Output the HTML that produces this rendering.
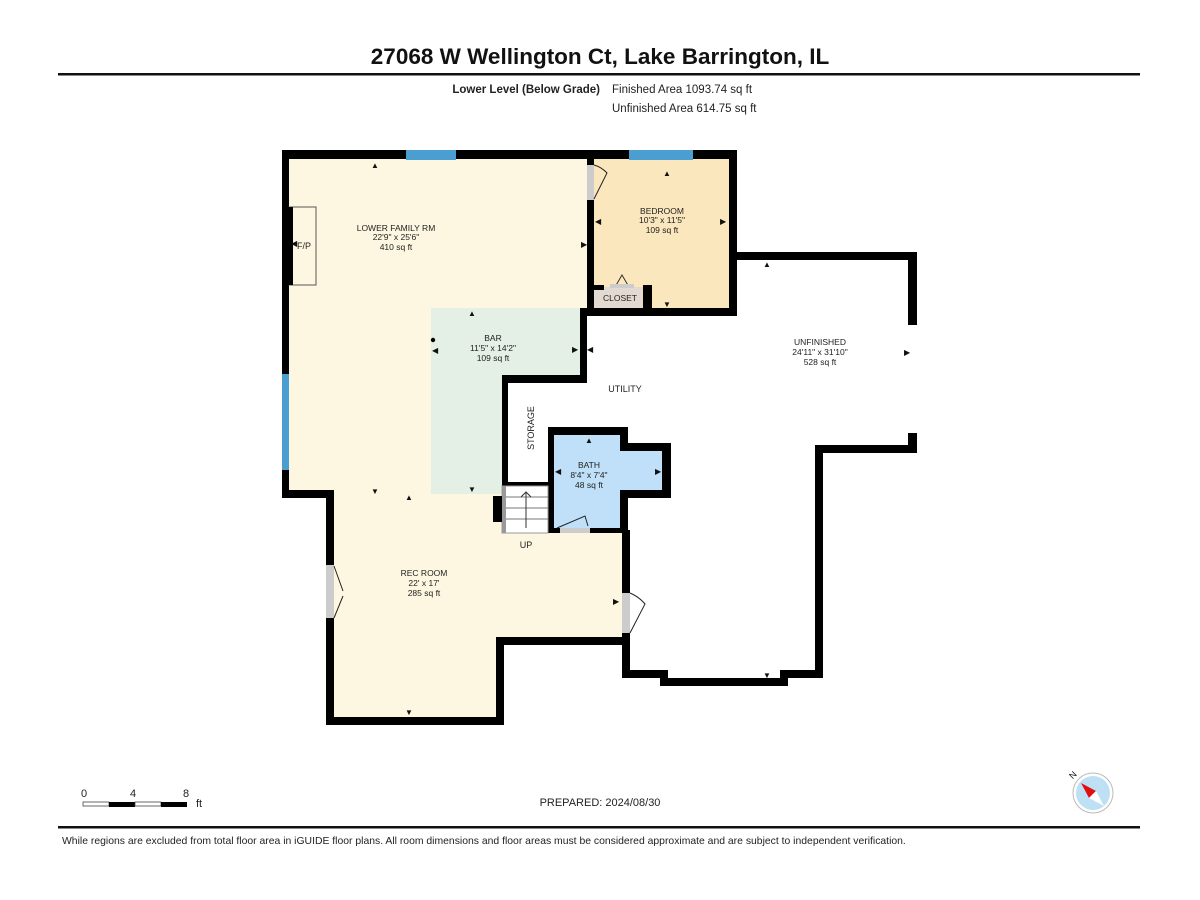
<!DOCTYPE html>
<html><head><meta charset="utf-8"><style>
html,body{margin:0;padding:0;background:#fff;}
svg{display:block;font-family:"Liberation Sans",Arial,sans-serif;}
</style></head><body>
<svg width="1200" height="900" viewBox="0 0 1200 900" xmlns="http://www.w3.org/2000/svg">
<rect width="1200" height="900" fill="#fff"/>
<text x="600" y="64" font-size="22.5" font-weight="bold" text-anchor="middle" fill="#111">27068 W Wellington Ct, Lake Barrington, IL</text>
<rect x="58" y="73" width="1082" height="2.5" fill="#111"/>
<text x="600" y="93" font-size="11.5" font-weight="bold" text-anchor="end" fill="#222">Lower Level (Below Grade)</text>
<text x="612" y="93" font-size="11.5" fill="#222">Finished Area 1093.74 sq ft</text>
<text x="612" y="112" font-size="11.5" fill="#222">Unfinished Area 614.75 sq ft</text>

<!-- fills -->
<polygon points="286,154 590,154 590,312 583,312 583,379 505,379 505,530 626,530 626,641 500,641 500,721 330,721 330,494 286,494" fill="#fdf7e1"/>
<polygon points="431,308 583,308 583,379 502,379 502,494 431,494" fill="#e4f0e6"/>
<rect x="594" y="158" width="136" height="150" fill="#fbe7bd"/>
<rect x="594" y="287" width="56" height="21" fill="#e2dad1"/>
<polygon points="552,431 624,431 624,447 666,447 666,494 624,494 624,530 552,530" fill="#bfe0f8"/>

<!-- windows -->
<rect x="406" y="150" width="50" height="10" fill="#4a9fd0"/>
<rect x="629" y="150" width="64" height="10" fill="#4a9fd0"/>
<rect x="282" y="374" width="7" height="96" fill="#4a9fd0"/>

<g fill="#000">
<rect x="282" y="150" width="124" height="9"/>
<rect x="456" y="150" width="173" height="9"/>
<rect x="693" y="150" width="44" height="9"/>
<rect x="282" y="150" width="7" height="224"/>
<rect x="282" y="470" width="7" height="28"/>
<rect x="282" y="490" width="52" height="8"/>
<rect x="326" y="490" width="8" height="75"/>
<rect x="326" y="618" width="8" height="107"/>
<rect x="326" y="717" width="177" height="8"/>
<rect x="496" y="637" width="8" height="88"/>
<rect x="496" y="637" width="134" height="8"/>
<rect x="622" y="530" width="8" height="63"/>
<rect x="622" y="633" width="8" height="45"/>
<rect x="587" y="150" width="7" height="15"/>
<rect x="587" y="200" width="7" height="116"/>
<rect x="729" y="150" width="8" height="166"/>
<rect x="587" y="308" width="150" height="8"/>
<rect x="594" y="285" width="10" height="5"/>
<rect x="643" y="285" width="9" height="23"/>
<rect x="580" y="308" width="7" height="75"/>
<rect x="502" y="375" width="85" height="8"/>
<rect x="502" y="375" width="6" height="112"/>
<rect x="502" y="482" width="46" height="4"/>
<rect x="548" y="427" width="80" height="8"/>
<rect x="548" y="427" width="6" height="106"/>
<rect x="620" y="427" width="8" height="23"/>
<rect x="620" y="443" width="51" height="8"/>
<rect x="662" y="443" width="9" height="55"/>
<rect x="620" y="490" width="51" height="8"/>
<rect x="620" y="490" width="8" height="43"/>
<rect x="548" y="528" width="12" height="5"/>
<rect x="590" y="528" width="38" height="5"/>
<rect x="730" y="252" width="187" height="8"/>
<rect x="908" y="252" width="9" height="73"/>
<rect x="908" y="433" width="9" height="20"/>
<rect x="815" y="445" width="102" height="8"/>
<rect x="815" y="445" width="8" height="233"/>
<rect x="780" y="670" width="43" height="8"/>
<rect x="660" y="678" width="128" height="8"/>
<rect x="622" y="670" width="40" height="8"/>
<rect x="660" y="670" width="8" height="16"/>
<rect x="780" y="670" width="8" height="16"/>
</g>
<rect x="289" y="207" width="27" height="78" fill="#fdf7e1" stroke="#555" stroke-width="1"/>
<rect x="286" y="207" width="7" height="78" fill="#000"/>
<text x="297" y="249" font-size="9" fill="#222">F/P</text>
<rect x="587" y="165" width="7" height="35" fill="#ccc"/>
<path d="M594,199 L607,173 A28,28 0 0 0 594,165" fill="none" stroke="#222" stroke-width="1"/>
<rect x="326" y="565" width="8" height="53" fill="#ccc"/>
<path d="M334,618 L343,596 M334,566 L343,591" fill="none" stroke="#222" stroke-width="1"/>
<rect x="622" y="593" width="8" height="40" fill="#ccc"/>
<path d="M630,633 L645,604 A40,40 0 0 0 630,593" fill="none" stroke="#222" stroke-width="1"/>
<rect x="560" y="528" width="30" height="5" fill="#ccc"/>
<path d="M557,528 L585,516 L588,526" fill="none" stroke="#222" stroke-width="1"/>
<path d="M615,287 L622,275 L629,287" fill="none" stroke="#333" stroke-width="1"/>
<rect x="610" y="284" width="24" height="4" fill="#ccc"/>
<rect x="502" y="486" width="46" height="47" fill="#fff" stroke="#999" stroke-width="1"/>
<rect x="502" y="486" width="4" height="47" fill="#999"/>
<g stroke="#777" stroke-width="1">
<line x1="506" y1="497" x2="548" y2="497"/><line x1="506" y1="508" x2="548" y2="508"/><line x1="506" y1="519" x2="548" y2="519"/>
<path d="M526,528 L526,492 M521,497 L526,492 L531,497" fill="none" stroke="#333"/>
</g>
<rect x="493" y="496" width="9" height="26" fill="#000"/>

<g font-size="8.5" fill="#222" text-anchor="middle">
<text x="396" y="231">LOWER FAMILY RM</text><text x="396" y="240">22'9" x 25'6"</text><text x="396" y="250">410 sq ft</text>
<text x="662" y="214">BEDROOM</text><text x="662" y="223">10'3" x 11'5"</text><text x="662" y="233">109 sq ft</text>
<text x="620" y="301">CLOSET</text>
<text x="493" y="341">BAR</text><text x="493" y="351">11'5" x 14'2"</text><text x="493" y="361">109 sq ft</text>
<text x="625" y="392" font-size="9">UTILITY</text>
<text x="820" y="345">UNFINISHED</text><text x="820" y="355">24'11" x 31'10"</text><text x="820" y="365">528 sq ft</text>
<text x="589" y="468">BATH</text><text x="589" y="478">8'4" x 7'4"</text><text x="589" y="488">48 sq ft</text>
<text x="424" y="576">REC ROOM</text><text x="424" y="586">22' x 17'</text><text x="424" y="596">285 sq ft</text>
<text x="526" y="548" font-size="9">UP</text>
<text transform="translate(534,428) rotate(-90)" font-size="9">STORAGE</text>
</g>
<circle cx="433" cy="340" r="2.2" fill="#000"/>
<g fill="#111" font-size="8" text-anchor="middle">
<text x="375" y="168">▲</text><text x="375" y="494">▼</text><text x="409" y="500">▲</text>
<text x="472" y="316">▲</text><text x="472" y="492">▼</text>
<text x="667" y="176">▲</text><text x="667" y="307">▼</text>
<text x="767" y="267">▲</text><text x="767" y="678">▼</text>
<text x="589" y="443">▲</text>
<text x="409" y="715">▼</text>
</g>
<g fill="#111" font-size="8">
<text x="581" y="247">▶</text><text x="595" y="224">◀</text><text x="720" y="224">▶</text>
<text x="432" y="353">◀</text><text x="572" y="352">▶</text><text x="587" y="352">◀</text>
<text x="904" y="355">▶</text><text x="555" y="474">◀</text><text x="655" y="474">▶</text>
<text x="613" y="604">▶</text><text x="291" y="246">◀</text>
</g>

<g font-size="11" fill="#222">
<text x="81" y="797">0</text><text x="130" y="797">4</text><text x="183" y="797">8</text><text x="196" y="807">ft</text>
</g>
<rect x="83" y="802" width="26" height="4" fill="#fff" stroke="#444" stroke-width="0.8"/>
<rect x="109" y="802" width="26" height="5" fill="#000"/>
<rect x="135" y="802" width="26" height="4" fill="#fff" stroke="#444" stroke-width="0.8"/>
<rect x="161" y="802" width="26" height="5" fill="#000"/>
<text x="600" y="806" font-size="11" text-anchor="middle" fill="#222">PREPARED: 2024/08/30</text>
<circle cx="1093" cy="793" r="20" fill="#fff" stroke="#bbb" stroke-width="1"/>
<circle cx="1093" cy="793" r="17" fill="#bde0f5"/>
<polygon points="1081,783 1096,791 1089,798" fill="#e01010"/>
<polygon points="1096,791 1104,806 1089,798" fill="#fff"/>
<text x="1070" y="779" font-size="9" fill="#222" transform="rotate(-45 1072 776)">N</text>

<rect x="58" y="826" width="1082" height="2.5" fill="#111"/>
<text x="62" y="844" font-size="10.4" fill="#222">While regions are excluded from total floor area in iGUIDE floor plans. All room dimensions and floor areas must be considered approximate and are subject to independent verification.</text>
</svg>
</body></html>
